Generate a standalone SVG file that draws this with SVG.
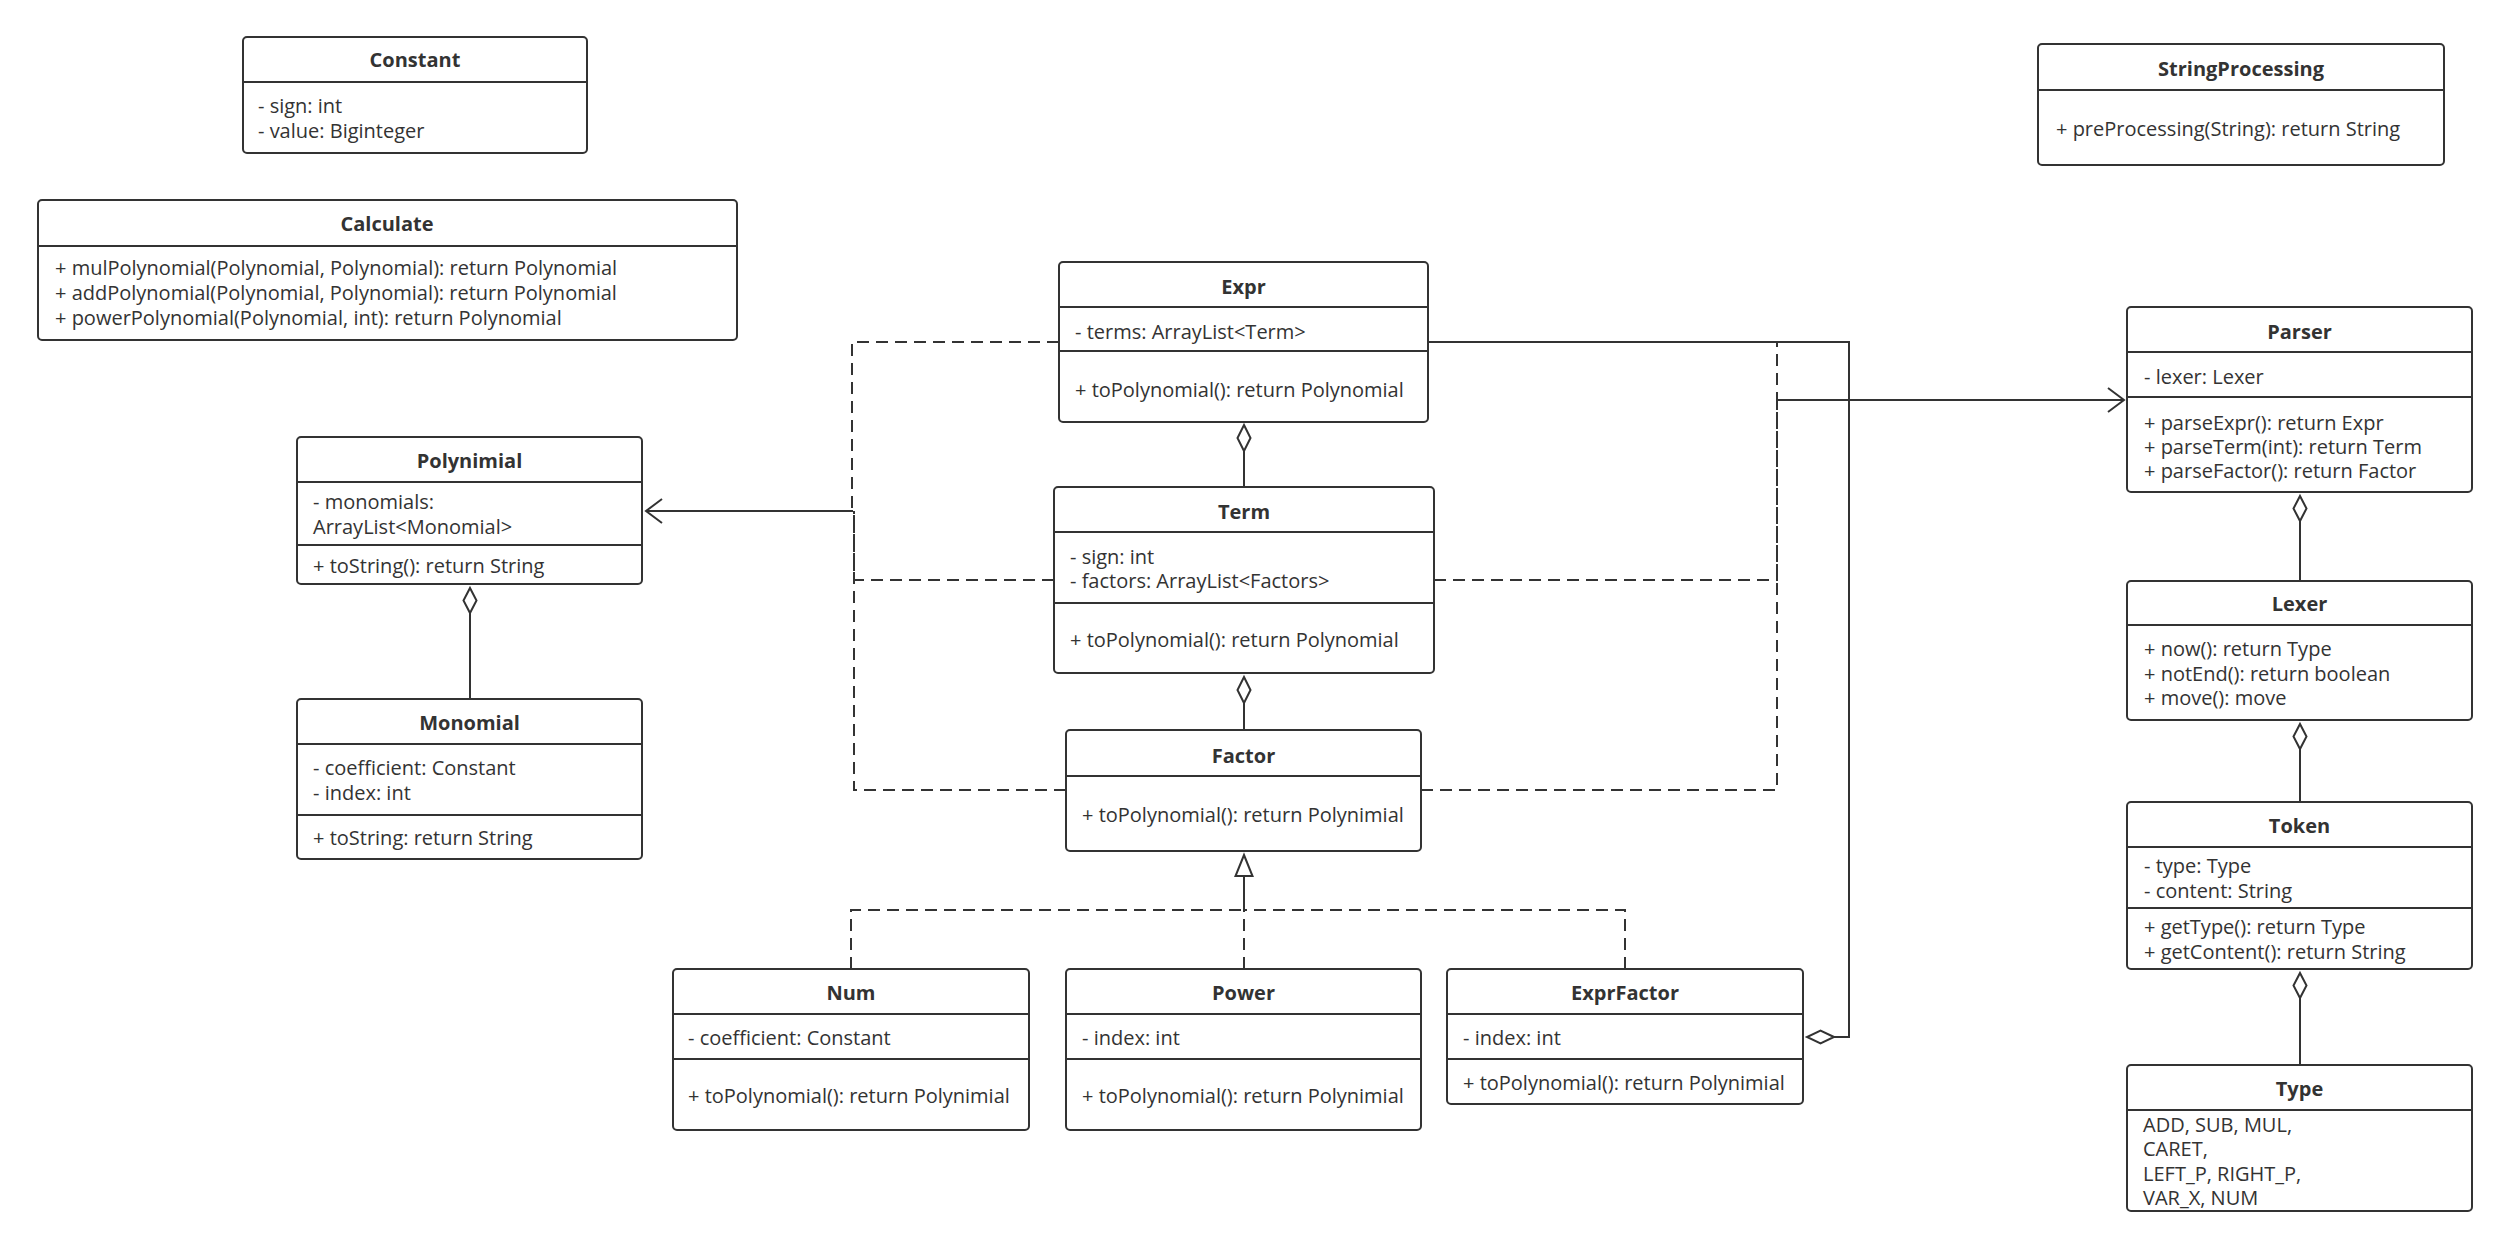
<svg xmlns="http://www.w3.org/2000/svg" width="2509" height="1248" viewBox="0 0 2509 1248">
<style>
.box{fill:#fff;stroke:#333;stroke-width:2}
.div{stroke:#333;stroke-width:2}
.t{font-family:"Open Sans","Noto Sans","Liberation Sans",sans-serif;font-size:20px;fill:#333}
.h{font-family:"Open Sans","Noto Sans","Liberation Sans",sans-serif;font-size:20px;font-weight:bold;fill:#333;text-anchor:middle}
.ln{fill:none;stroke:#333;stroke-width:2}
.dash{fill:none;stroke:#333;stroke-width:2;stroke-dasharray:12 7}
.dia{fill:#fff;stroke:#333;stroke-width:2}
</style>
<rect width="2509" height="1248" fill="#fff"/>

<g id="connectors">
  <!-- Dependencies to Polynimial -->
  <path class="dash" d="M1059,342 H852 V511"/>
  <path class="dash" d="M1054,580 H854 V511"/>
  <path class="dash" d="M1066,790 H854 V511"/>
  <path class="ln" d="M853,511 H646"/>
  <path class="ln" d="M662,499 L646,511 L662,523"/>
  <!-- Dependencies to Parser -->
  <path class="dash" d="M1428,342 H1777 V400"/>
  <path class="dash" d="M1434,580 H1777 V400"/>
  <path class="dash" d="M1421,790 H1777 V400"/>
  <path class="ln" d="M1777,400 H2124"/>
  <path class="ln" d="M2108,388 L2124,400 L2108,412"/>
  <!-- Aggregation Expr -> ExprFactor -->
  <path class="ln" d="M1428,342 H1849 V1037 H1834"/>
  <path class="dia" d="M1834,1037 L1820.5,1030.5 L1807,1037 L1820.5,1043.5 Z"/>
  <!-- Realizations to Factor -->
  <path class="dash" d="M851,969 V910 H1244"/>
  <path class="dash" d="M1625,969 V910 H1244"/>
  <path class="dash" d="M1244,969 V910"/>
  <path class="ln" d="M1244,910 V876"/>
  <path class="dia" d="M1244,855 L1252.5,876 L1235.5,876 Z"/>
  <!-- Aggregations -->
  <path class="ln" d="M470,613 V699"/>
  <path class="dia" d="M470,588 L476.5,600.5 L470,613 L463.5,600.5 Z"/>
  <path class="ln" d="M1244,451 V487"/>
  <path class="dia" d="M1244,425 L1250.5,438 L1244,451 L1237.5,438 Z"/>
  <path class="ln" d="M1244,703 V730"/>
  <path class="dia" d="M1244,677 L1250.5,690 L1244,703 L1237.5,690 Z"/>
  <path class="ln" d="M2300,521 V581"/>
  <path class="dia" d="M2300,496 L2306.5,508.5 L2300,521 L2293.5,508.5 Z"/>
  <path class="ln" d="M2300,749 V802"/>
  <path class="dia" d="M2300,724 L2306.5,736.5 L2300,749 L2293.5,736.5 Z"/>
  <path class="ln" d="M2300,998 V1065"/>
  <path class="dia" d="M2300,973 L2306.5,985.5 L2300,998 L2293.5,985.5 Z"/>
</g>

<g id="Constant">
  <rect class="box" x="243" y="37" width="344" height="116" rx="4"/>
  <line class="div" x1="243" y1="82" x2="587" y2="82"/>
  <text class="h" x="415" y="67">Constant</text>
  <text class="t" x="258" y="113">- sign: int</text>
  <text class="t" x="258" y="138">- value: Biginteger</text>
</g>

<g id="Calculate">
  <rect class="box" x="38" y="200" width="699" height="140" rx="4"/>
  <line class="div" x1="38" y1="246" x2="737" y2="246"/>
  <text class="h" x="387" y="231">Calculate</text>
  <text class="t" x="55" y="275">+ mulPolynomial(Polynomial, Polynomial): return Polynomial</text>
  <text class="t" x="55" y="300">+ addPolynomial(Polynomial, Polynomial): return Polynomial</text>
  <text class="t" x="55" y="325">+ powerPolynomial(Polynomial, int): return Polynomial</text>
</g>

<g id="Polynimial">
  <rect class="box" x="297" y="437" width="345" height="147" rx="4"/>
  <line class="div" x1="297" y1="482" x2="642" y2="482"/>
  <line class="div" x1="297" y1="545" x2="642" y2="545"/>
  <text class="h" x="469.5" y="468">Polynimial</text>
  <text class="t" x="313" y="509">- monomials:</text>
  <text class="t" x="313" y="534">ArrayList&lt;Monomial&gt;</text>
  <text class="t" x="313" y="573">+ toString(): return String</text>
</g>

<g id="Monomial">
  <rect class="box" x="297" y="699" width="345" height="160" rx="4"/>
  <line class="div" x1="297" y1="744" x2="642" y2="744"/>
  <line class="div" x1="297" y1="815" x2="642" y2="815"/>
  <text class="h" x="469.5" y="730">Monomial</text>
  <text class="t" x="313" y="775">- coefficient: Constant</text>
  <text class="t" x="313" y="800">- index: int</text>
  <text class="t" x="313" y="845">+ toString: return String</text>
</g>

<g id="Expr">
  <rect class="box" x="1059" y="262" width="369" height="160" rx="4"/>
  <line class="div" x1="1059" y1="307" x2="1428" y2="307"/>
  <line class="div" x1="1059" y1="351" x2="1428" y2="351"/>
  <text class="h" x="1243.5" y="294">Expr</text>
  <text class="t" x="1075" y="339">- terms: ArrayList&lt;Term&gt;</text>
  <text class="t" x="1075" y="397">+ toPolynomial(): return Polynomial</text>
</g>

<g id="Term">
  <rect class="box" x="1054" y="487" width="380" height="186" rx="4"/>
  <line class="div" x1="1054" y1="532" x2="1434" y2="532"/>
  <line class="div" x1="1054" y1="603" x2="1434" y2="603"/>
  <text class="h" x="1244" y="519">Term</text>
  <text class="t" x="1070" y="564">- sign: int</text>
  <text class="t" x="1070" y="588">- factors: ArrayList&lt;Factors&gt;</text>
  <text class="t" x="1070" y="647">+ toPolynomial(): return Polynomial</text>
</g>

<g id="Factor">
  <rect class="box" x="1066" y="730" width="355" height="121" rx="4"/>
  <line class="div" x1="1066" y1="776" x2="1421" y2="776"/>
  <text class="h" x="1243.5" y="763">Factor</text>
  <text class="t" x="1082" y="822">+ toPolynomial(): return Polynimial</text>
</g>

<g id="Num">
  <rect class="box" x="673" y="969" width="356" height="161" rx="4"/>
  <line class="div" x1="673" y1="1014" x2="1029" y2="1014"/>
  <line class="div" x1="673" y1="1059" x2="1029" y2="1059"/>
  <text class="h" x="851" y="1000">Num</text>
  <text class="t" x="688" y="1045">- coefficient: Constant</text>
  <text class="t" x="688" y="1103">+ toPolynomial(): return Polynimial</text>
</g>

<g id="Power">
  <rect class="box" x="1066" y="969" width="355" height="161" rx="4"/>
  <line class="div" x1="1066" y1="1014" x2="1421" y2="1014"/>
  <line class="div" x1="1066" y1="1059" x2="1421" y2="1059"/>
  <text class="h" x="1243.5" y="1000">Power</text>
  <text class="t" x="1082" y="1045">- index: int</text>
  <text class="t" x="1082" y="1103">+ toPolynomial(): return Polynimial</text>
</g>

<g id="ExprFactor">
  <rect class="box" x="1447" y="969" width="356" height="135" rx="4"/>
  <line class="div" x1="1447" y1="1014" x2="1803" y2="1014"/>
  <line class="div" x1="1447" y1="1059" x2="1803" y2="1059"/>
  <text class="h" x="1625" y="1000">ExprFactor</text>
  <text class="t" x="1463" y="1045">- index: int</text>
  <text class="t" x="1463" y="1090">+ toPolynomial(): return Polynimial</text>
</g>

<g id="StringProcessing">
  <rect class="box" x="2038" y="44" width="406" height="121" rx="4"/>
  <line class="div" x1="2038" y1="90" x2="2444" y2="90"/>
  <text class="h" x="2241" y="76">StringProcessing</text>
  <text class="t" x="2056" y="136">+ preProcessing(String): return String</text>
</g>

<g id="Parser">
  <rect class="box" x="2127" y="307" width="345" height="185" rx="4"/>
  <line class="div" x1="2127" y1="352" x2="2472" y2="352"/>
  <line class="div" x1="2127" y1="397" x2="2472" y2="397"/>
  <text class="h" x="2299.5" y="339">Parser</text>
  <text class="t" x="2144" y="384">- lexer: Lexer</text>
  <text class="t" x="2144" y="430">+ parseExpr(): return Expr</text>
  <text class="t" x="2144" y="454">+ parseTerm(int): return Term</text>
  <text class="t" x="2144" y="478">+ parseFactor(): return Factor</text>
</g>

<g id="Lexer">
  <rect class="box" x="2127" y="581" width="345" height="139" rx="4"/>
  <line class="div" x1="2127" y1="625" x2="2472" y2="625"/>
  <text class="h" x="2299.5" y="611">Lexer</text>
  <text class="t" x="2144" y="656">+ now(): return Type</text>
  <text class="t" x="2144" y="681">+ notEnd(): return boolean</text>
  <text class="t" x="2144" y="705">+ move(): move</text>
</g>

<g id="Token">
  <rect class="box" x="2127" y="802" width="345" height="167" rx="4"/>
  <line class="div" x1="2127" y1="847" x2="2472" y2="847"/>
  <line class="div" x1="2127" y1="908" x2="2472" y2="908"/>
  <text class="h" x="2299.5" y="833">Token</text>
  <text class="t" x="2144" y="873">- type: Type</text>
  <text class="t" x="2144" y="898">- content: String</text>
  <text class="t" x="2144" y="934">+ getType(): return Type</text>
  <text class="t" x="2144" y="959">+ getContent(): return String</text>
</g>

<g id="Type">
  <rect class="box" x="2127" y="1065" width="345" height="146" rx="4"/>
  <line class="div" x1="2127" y1="1110" x2="2472" y2="1110"/>
  <text class="h" x="2299.5" y="1096">Type</text>
  <text class="t" x="2143" y="1132">ADD, SUB, MUL,</text>
  <text class="t" x="2143" y="1156">CARET,</text>
  <text class="t" x="2143" y="1181">LEFT_P, RIGHT_P,</text>
  <text class="t" x="2143" y="1205">VAR_X, NUM</text>
</g>
</svg>
